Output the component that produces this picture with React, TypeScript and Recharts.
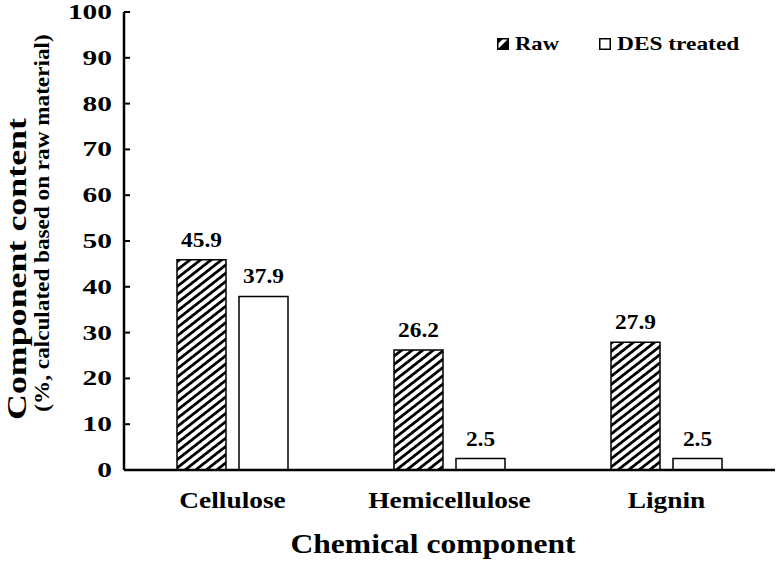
import React from "react";
import { BarChart, Bar, XAxis, YAxis, LabelList, Legend } from "recharts";

const categories = ["Cellulose", "Hemicellulose", "Lignin"];
const rawValues = [45.9, 26.2, 27.9];
const desValues = [37.9, 2.5, 2.5];
const yTicks = [0, 10, 20, 30, 40, 50, 60, 70, 80, 90, 100];

const data = categories.map((c, i) => ({ name: c, raw: rawValues[i], des: desValues[i] }));

const FONT = "'Liberation Serif', 'Times New Roman', serif";

const SText = (p: any) => {
  const { x, y, sx = 1, size, anchor = "middle", children, rotate = 0 } = p;
  const tr = rotate ? `translate(${x},${y}) rotate(${rotate}) scale(${sx},1)` : `translate(${x},${y}) scale(${sx},1)`;
  return (
    <text transform={tr} x={0} y={0} textAnchor={anchor} fontFamily={FONT} fontWeight="bold" fontSize={size} fill="#000">
      {children}
    </text>
  );
};

const YTick = (props: any) => {
  const { x, y, payload } = props;
  return (
    <g>
      <line x1={x} x2={x + 6} y1={y} y2={y} stroke="#000" strokeWidth={2} />
      <SText x={x - 12} y={y + 7} sx={1.4} size={21} anchor="end">{payload.value}</SText>
    </g>
  );
};

const XTick = (props: any) => {
  const { x, y, payload } = props;
  return <SText x={x} y={y + 38} sx={1.14} size={24}>{payload.value}</SText>;
};

const XTitle = () => <SText x={433} y={553} sx={1.17} size={27}>Chemical component</SText>;

const YTitle = () => (
  <g>
    <SText x={26} y={269} rotate={-90} sx={1.33} size={27}>Component content</SText>
    <SText x={49} y={223} rotate={-90} sx={1.16} size={20}>(%, calculated based on raw material)</SText>
  </g>
);

const LegendContent = () => (
  <div style={{ display: "flex", alignItems: "center", fontFamily: FONT, fontWeight: "bold", fontSize: 19, color: "#000", whiteSpace: "nowrap" }}>
    <svg width={12} height={12} style={{ marginRight: 6 }}>
      <rect x={0.75} y={0.75} width={10.5} height={10.5} fill="#fff" stroke="#000" strokeWidth={1.5} />
      <polygon points="0.75,11.25 11.25,0.75 11.25,11.25" fill="#000" />
      <polygon points="0.75,0.75 6,0.75 0.75,6" fill="#000" />
    </svg>
    <span style={{ display: "inline-block", transform: "scaleX(1.19)", transformOrigin: "left center", marginRight: 40 + 7 }}>Raw</span>
    <svg width={12} height={12} style={{ marginRight: 6 }}>
      <rect x={0.75} y={0.75} width={10.5} height={10.5} fill="#fff" stroke="#000" strokeWidth={1.5} />
    </svg>
    <span style={{ display: "inline-block", transform: "scaleX(1.23)", transformOrigin: "left center" }}>DES treated</span>
  </div>
);

const makeLabel = (props: any) => {
  const { x, y, width, value } = props;
  return <SText x={x + width / 2} y={y - 13} sx={1.17} size={20}>{value}</SText>;
};

export default function App() {
  return (
    <div style={{ position: "absolute", left: 0, top: 0, width: 776, height: 562, background: "#fff" }}>
      <svg width={0} height={0} style={{ position: "absolute" }}>
        <defs>
          <pattern id="hatch" patternUnits="userSpaceOnUse" width={6.5} height={6.5} patternTransform="rotate(-38)">
            <rect x={0} y={0} width={6.5} height={6.5} fill="#fff" />
            <line x1={0} y1={3.25} x2={6.5} y2={3.25} stroke="#000" strokeWidth={2.8} />
          </pattern>
        </defs>
      </svg>
      <BarChart
        width={776}
        height={562}
        data={data}
        margin={{ top: 12, right: 1, bottom: 0, left: 0 }}
        barSize={49}
        barGap={13}
      >
        <XAxis dataKey="name" height={92} tickLine={false} tickSize={0} tickMargin={0} tick={<XTick />}
          axisLine={{ stroke: "#000", strokeWidth: 2.5 }} label={<XTitle />} />
        <XAxis xAxisId="top" orientation="top" dataKey="name" height={0} tick={false} tickLine={false} axisLine={{ stroke: "#000", strokeWidth: 2.5 }} />
        <YAxis width={124} domain={[0, 100]} ticks={yTicks} interval={0} tickSize={0} tickMargin={0} tickLine={false}
          tick={<YTick />} axisLine={{ stroke: "#000", strokeWidth: 2.5 }} label={<YTitle />} />
        <YAxis yAxisId="right" orientation="right" width={0} domain={[0, 100]} tick={false} tickLine={false} axisLine={{ stroke: "#000", strokeWidth: 2.5 }} />
        <Legend content={<LegendContent />} layout="vertical" verticalAlign="middle" align="center"
          wrapperStyle={{ position: "absolute", left: 497, top: 33, width: 270, height: 22 }} />
        <Bar dataKey="raw" fill="url(#hatch)" stroke="#000" strokeWidth={1.5} isAnimationActive={false}>
          <LabelList dataKey="raw" content={makeLabel} />
        </Bar>
        <Bar dataKey="des" fill="#fff" stroke="#000" strokeWidth={1.5} isAnimationActive={false}>
          <LabelList dataKey="des" content={makeLabel} />
        </Bar>
      </BarChart>
    </div>
  );
}
